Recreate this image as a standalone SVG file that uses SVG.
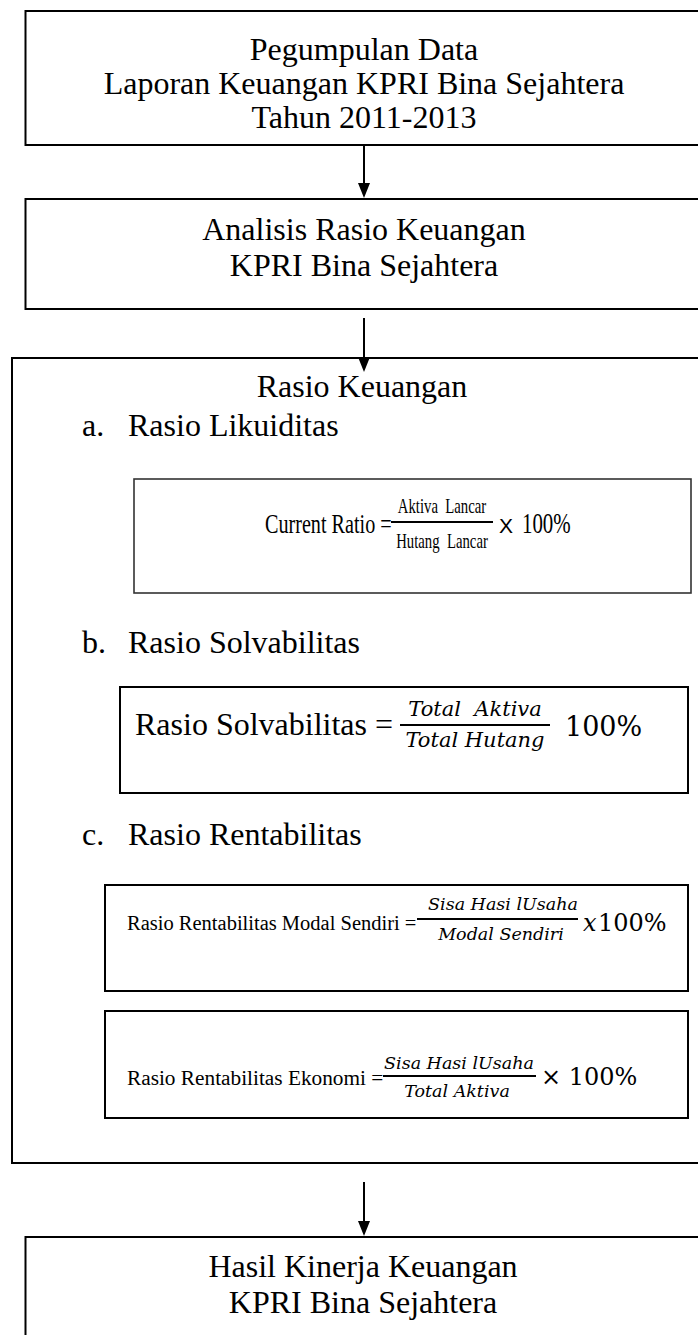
<svg xmlns="http://www.w3.org/2000/svg" width="698" height="1335" viewBox="0 0 698 1335">
<style>
.box{fill:#fff;stroke:#000;stroke-width:2}
.fbox{fill:#fff;stroke:#000;stroke-width:2}
.gbox{fill:#fff;stroke:#333;stroke-width:1.6}
.t{font-family:"Liberation Serif","Times New Roman",serif;fill:#000}
.big{font-size:32px}
.c{text-anchor:middle}
.m{font-family:"DejaVu Serif","Cambria Math",serif;fill:#000}
.mi{font-family:"DejaVu Serif","Cambria Math",serif;font-style:italic;fill:#000}
.s{font-family:"Liberation Sans",Arial,sans-serif;fill:#000}
.conn{stroke:#000;stroke-width:2;fill:none}
.fl{stroke:#000;stroke-width:2}
</style>
<rect width="698" height="1335" fill="#fff"/>

<g id="n1">
<rect class="box" x="25.5" y="11" width="690" height="134"/>
<text class="t big c" x="364" y="60">Pegumpulan Data</text>
<text class="t big c" x="364" y="94">Laporan Keuangan KPRI Bina Sejahtera</text>
<text class="t big c" x="364" y="128">Tahun 2011-2013</text>
</g>

<g id="n2">
<rect class="box" x="25.5" y="199" width="690" height="110"/>
<text class="t big c" x="364" y="240">Analisis Rasio Keuangan</text>
<text class="t big c" x="364" y="276">KPRI Bina Sejahtera</text>
</g>

<g id="n3">
<rect class="box" x="12" y="358" width="710" height="805"/>
<text class="t big c" x="362" y="397">Rasio Keuangan</text>
<text class="t big" x="82" y="436">a.</text>
<text class="t big" x="128" y="436">Rasio Likuiditas</text>
<text class="t big" x="82" y="653">b.</text>
<text class="t big" x="128" y="653">Rasio Solvabilitas</text>
<text class="t big" x="82" y="845">c.</text>
<text class="t big" x="128" y="845">Rasio Rentabilitas</text>
</g>

<g id="f1">
<rect class="gbox" x="134" y="479" width="557" height="114"/>
<g transform="translate(265 533) scale(0.72 1)">
<text class="t" x="0" y="0" font-size="28">Current Ratio =</text>
</g>
<line class="fl" x1="391" y1="522" x2="493" y2="522" stroke-width="2.5"/>
<g transform="translate(442 513) scale(0.67 1)">
<text class="t c" x="0" y="0" font-size="22" xml:space="preserve">Aktiva  Lancar</text>
</g>
<g transform="translate(442 548) scale(0.67 1)">
<text class="t c" x="0" y="0" font-size="22" xml:space="preserve">Hutang  Lancar</text>
</g>
<text class="s" x="499" y="533" font-size="21">X</text>
<g transform="translate(522 533) scale(0.72 1)">
<text class="t" x="0" y="0" font-size="29">100%</text>
</g>
</g>

<g id="f2">
<rect class="fbox" x="120" y="687" width="568" height="106"/>
<text class="t" x="135" y="735" font-size="32">Rasio Solvabilitas =</text>
<text class="mi c" x="475" y="716" font-size="21" xml:space="preserve">Total  Aktiva</text>
<line class="fl" x1="400" y1="725" x2="550" y2="725"/>
<text class="mi c" x="475" y="747" font-size="21">Total Hutang</text>
<text class="m" x="565" y="736" font-size="27">100%</text>
</g>

<g id="f3">
<rect class="fbox" x="105" y="885" width="583" height="106"/>
<text class="t" x="127" y="930" font-size="20.5">Rasio Rentabilitas Modal Sendiri =</text>
<text class="mi c" x="503" y="910" font-size="17.5">Sisa Hasi lUsaha</text>
<line class="fl" x1="417" y1="919" x2="578" y2="919"/>
<text class="mi c" x="501" y="940" font-size="17.5">Modal Sendiri</text>
<text class="mi" x="583" y="931" font-size="24">x</text>
<text class="m" x="598" y="931" font-size="24">100%</text>
</g>

<g id="f4">
<rect class="fbox" x="105" y="1011" width="583" height="107"/>
<text class="t" x="127" y="1085" font-size="21.3">Rasio Rentabilitas Ekonomi =</text>
<text class="mi c" x="459" y="1069" font-size="17.5">Sisa Hasi lUsaha</text>
<line class="fl" x1="383" y1="1076" x2="536" y2="1076"/>
<text class="mi c" x="457" y="1097" font-size="17.5">Total Aktiva</text>
<text class="m" x="541" y="1085" font-size="24">× 100%</text>
</g>

<g id="n4">
<rect class="box" x="25.5" y="1237" width="690" height="120"/>
<text class="t big c" x="363" y="1277">Hasil Kinerja Keuangan</text>
<text class="t big c" x="363" y="1313">KPRI Bina Sejahtera</text>
</g>

<g id="connectors">
<line class="conn" x1="364" y1="145" x2="364" y2="185"/>
<path d="M358,183 L370,183 L364,198 Z"/>
<line class="conn" x1="364" y1="318" x2="364" y2="359"/>
<path d="M358,357 L370,357 L364,372 Z"/>
<line class="conn" x1="364" y1="1182" x2="364" y2="1223"/>
<path d="M358,1221 L370,1221 L364,1236 Z"/>
</g>
</svg>
